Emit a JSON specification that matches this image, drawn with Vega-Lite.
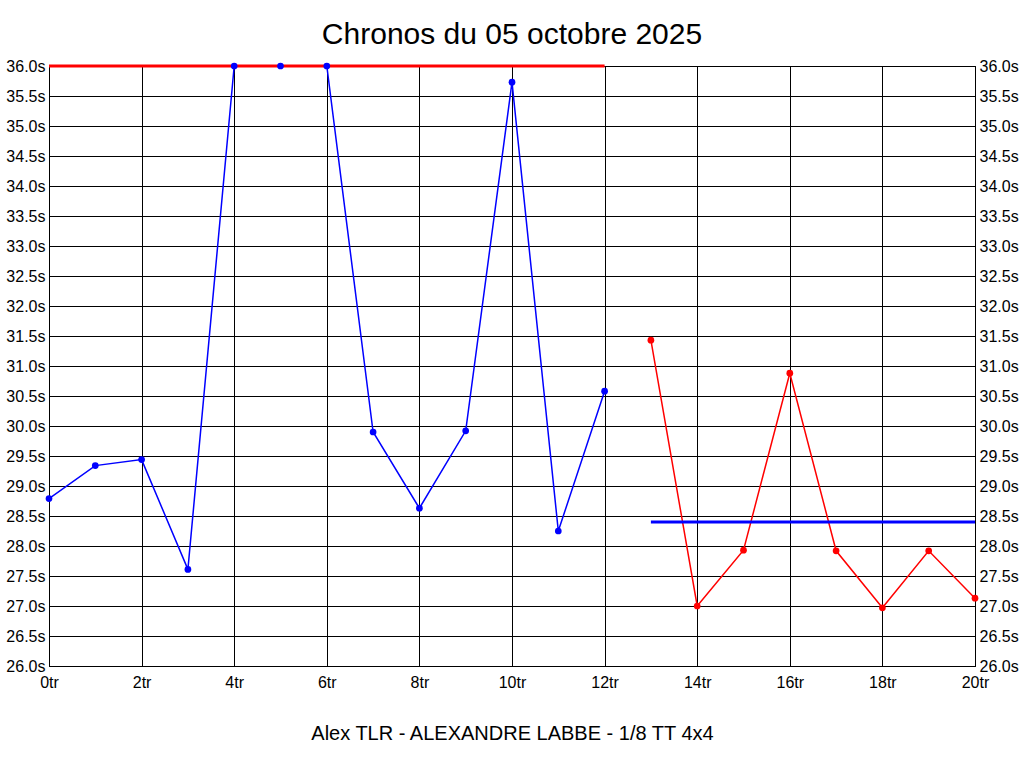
{
  "$schema": "https://vega.github.io/schema/vega-lite/v6.json",
  "autosize": "none",
  "width": 926,
  "height": 600,
  "padding": {"left": 49, "top": 66, "right": 49, "bottom": 102},
  "background": "white",
  "title": {
    "text": "Chronos du 05 octobre 2025",
    "font": "Liberation Sans",
    "fontSize": 30,
    "fontWeight": "normal",
    "color": "black",
    "anchor": "middle",
    "offset": 8
  },
  "config": {
    "view": {"stroke": "black", "strokeWidth": 1},
    "axis": {
      "labelFont": "Liberation Sans",
      "labelFontSize": 16,
      "labelColor": "black",
      "labelFlush": false,
      "titleFont": "Liberation Sans",
      "titleColor": "black",
      "grid": true,
      "gridColor": "black",
      "gridOpacity": 1,
      "gridWidth": 1,
      "ticks": false,
      "domainColor": "black",
      "domainWidth": 1
    }
  },
  "datasets": {
    "chronos": [
      {"tour": 0, "temps": 28.79, "serie": "A"},
      {"tour": 1, "temps": 29.34, "serie": "A"},
      {"tour": 2, "temps": 29.44, "serie": "A"},
      {"tour": 3, "temps": 27.61, "serie": "A"},
      {"tour": 4, "temps": 36.0, "serie": "A"},
      {"tour": 5, "temps": 36.0, "serie": "A"},
      {"tour": 6, "temps": 36.0, "serie": "A"},
      {"tour": 7, "temps": 29.9, "serie": "A"},
      {"tour": 8, "temps": 28.63, "serie": "A"},
      {"tour": 9, "temps": 29.92, "serie": "A"},
      {"tour": 10, "temps": 35.73, "serie": "A"},
      {"tour": 11, "temps": 28.25, "serie": "A"},
      {"tour": 12, "temps": 30.58, "serie": "A"},
      {"tour": 13, "temps": 31.43, "serie": "B"},
      {"tour": 14, "temps": 27.0, "serie": "B"},
      {"tour": 15, "temps": 27.93, "serie": "B"},
      {"tour": 16, "temps": 30.88, "serie": "B"},
      {"tour": 17, "temps": 27.92, "serie": "B"},
      {"tour": 18, "temps": 26.97, "serie": "B"},
      {"tour": 19, "temps": 27.92, "serie": "B"},
      {"tour": 20, "temps": 27.13, "serie": "B"}
    ],
    "refs": [
      {"tour": 0, "temps": 36.0, "serie": "refA"},
      {"tour": 12, "temps": 36.0, "serie": "refA"},
      {"tour": 13, "temps": 28.4, "serie": "refB"},
      {"tour": 20, "temps": 28.4, "serie": "refB"}
    ]
  },
  "encoding": {
    "x": {
      "field": "tour",
      "type": "quantitative",
      "scale": {"domain": [0, 20], "nice": false, "zero": false},
      "axis": {
        "values": [0, 2, 4, 6, 8, 10, 12, 14, 16, 18, 20],
        "labelExpr": "datum.value + 'tr'",
        "labelPadding": 8,
        "title": "Alex TLR - ALEXANDRE LABBE - 1/8 TT 4x4",
        "titleFontSize": 20,
        "titleFontWeight": "normal",
        "titlePadding": 33
      }
    },
    "color": {
      "field": "serie",
      "type": "nominal",
      "scale": {"domain": ["A", "B", "refA", "refB"], "range": ["#0000ff", "#ff0000", "#ff0000", "#0000ff"]},
      "legend": null
    }
  },
  "layer": [
    {
      "data": {"name": "chronos"},
      "mark": {"type": "line", "strokeWidth": 1.5},
      "encoding": {
        "y": {
          "field": "temps",
          "type": "quantitative",
          "scale": {"domain": [26, 36], "nice": false, "zero": false},
          "axis": {
            "orient": "left",
            "values": [26, 26.5, 27, 27.5, 28, 28.5, 29, 29.5, 30, 30.5, 31, 31.5, 32, 32.5, 33, 33.5, 34, 34.5, 35, 35.5, 36],
            "labelExpr": "format(datum.value, '.1f') + 's'",
            "labelPadding": 4,
            "title": null
          }
        }
      }
    },
    {
      "data": {"name": "refs"},
      "mark": {"type": "line", "strokeWidth": 3},
      "encoding": {
        "y": {
          "field": "temps",
          "type": "quantitative",
          "axis": {
            "orient": "right",
            "values": [26, 26.5, 27, 27.5, 28, 28.5, 29, 29.5, 30, 30.5, 31, 31.5, 32, 32.5, 33, 33.5, 34, 34.5, 35, 35.5, 36],
            "labelExpr": "format(datum.value, '.1f') + 's'",
            "labelPadding": 4,
            "grid": false,
            "title": null
          }
        }
      }
    },
    {
      "data": {"name": "chronos"},
      "mark": {"type": "point", "filled": true, "opacity": 1, "size": 45},
      "encoding": {
        "y": {"field": "temps", "type": "quantitative", "axis": null}
      }
    }
  ],
  "resolve": {"scale": {"y": "shared"}, "axis": {"y": "independent"}}
}
